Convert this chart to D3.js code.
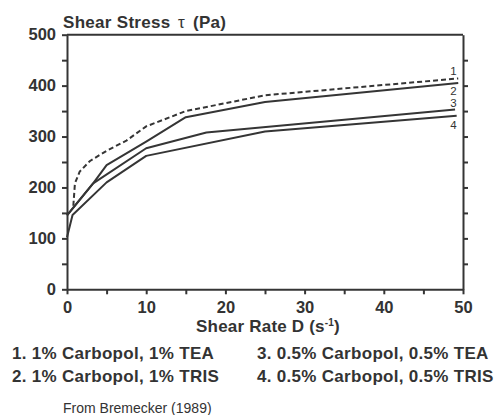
<!DOCTYPE html>
<html>
<head>
<meta charset="utf-8">
<script src="https://cdn.jsdelivr.net/npm/d3@7"></script>
<style>
  body { margin: 0; background: #fff; }
  text { font-family: "Liberation Sans", Arial, Helvetica, sans-serif; fill: #333; }
</style>
</head>
<body>
<script>
// data: shear rate D (1/s) and shear stress tau (Pa)
var rate1 = [0.8, 1.0, 1.6, 2.9, 5, 7.5, 10, 15, 25, 49.4];
var stress1 = [164, 208, 231, 252, 272, 292, 320, 350, 381, 414];
var rate2 = [0, 3.3, 5, 10, 15, 25, 49.4];
var stress2 = [145, 208, 244, 290, 338, 368, 405];
var rate3 = [0, 3.3, 10, 17.6, 49];
var stress3 = [145, 208, 277, 308, 353];
var rate4 = [0, 0.7, 5, 10, 25, 49.2];
var stress4 = [102, 146, 210, 262, 310, 341];

var seriesLabels = ["1", "2", "3", "4"];
var legendItems = [
  "1. 1% Carbopol, 1% TEA",
  "2. 1% Carbopol, 1% TRIS",
  "3. 0.5% Carbopol, 0.5% TEA",
  "4. 0.5% Carbopol, 0.5% TRIS"
];
var yTicks = [0, 50, 100, 150, 200, 250, 300, 350, 400, 450, 500];
var xTicks = [0, 5, 10, 15, 20, 25, 30, 35, 40, 45, 50];

// SVG area
var svgWidth = 499;
var svgHeight = 415;
var chartMargin = { top: 34.7, right: 36, bottom: 125.7, left: 67 };
var chartWidth = svgWidth - chartMargin.left - chartMargin.right;
var chartHeight = svgHeight - chartMargin.top - chartMargin.bottom;
var ink = "#353535";

var svg = d3.select("body")
  .append("svg")
  .attr("width", svgWidth)
  .attr("height", svgHeight);

var chartGroup = svg.append("g")
  .attr("transform", `translate(${chartMargin.left}, ${chartMargin.top})`);

// scales
var xScale = d3.scaleLinear().domain([0, 50]).range([0, chartWidth]);
var yScale = d3.scaleLinear().domain([0, 500]).range([chartHeight, 0]);

// axes
var yAxis = d3.axisLeft(yScale)
  .tickValues(yTicks)
  .tickFormat(d => d % 100 === 0 ? d : "")
  .tickSize(5).tickSizeOuter(0).tickPadding(6);
var yAxisRight = d3.axisRight(yScale)
  .tickValues(yTicks.filter(d => d > 0 && d < 500))
  .tickFormat("")
  .tickSize(5).tickSizeOuter(0);
var xAxis = d3.axisBottom(xScale)
  .tickValues(xTicks)
  .tickFormat(d => d % 10 === 0 ? d : "")
  .tickSize(5).tickSizeOuter(0).tickPadding(7);

function styleAxis(g) {
  g.selectAll("path, line").attr("stroke", ink).attr("stroke-width", 2);
  g.selectAll("text")
    .style("font-size", "16.5px")
    .style("font-weight", "bold")
    .attr("fill", "#333");
}

chartGroup.append("g")
  .attr("transform", `translate(0, ${chartHeight})`)
  .call(xAxis)
  .call(styleAxis);
chartGroup.append("g")
  .call(yAxis)
  .call(styleAxis);
chartGroup.append("g")
  .attr("transform", `translate(${chartWidth}, 0)`)
  .call(yAxisRight)
  .call(styleAxis);
// top frame line
chartGroup.append("line")
  .attr("x1", xScale(0)).attr("x2", xScale(50))
  .attr("y1", yScale(500)).attr("y2", yScale(500))
  .attr("stroke", ink).attr("stroke-width", 2);

// curves
var series = [
  { r: rate1, s: stress1, dash: "5,3" },
  { r: rate2, s: stress2, dash: null },
  { r: rate3, s: stress3, dash: null },
  { r: rate4, s: stress4, dash: null }
];

var line = d3.line()
  .x(d => xScale(d[0]))
  .y(d => yScale(d[1]));

chartGroup.selectAll(".curve")
  .data(series)
  .enter()
  .append("path")
  .attr("class", "curve")
  .attr("d", d => line(d3.zip(d.r, d.s)))
  .attr("fill", "none")
  .attr("stroke", ink)
  .attr("stroke-width", 2)
  .attr("stroke-linejoin", "round")
  .attr("stroke-dasharray", d => d.dash);

// curve numbers at the right end
var labelY = [75, 95.5, 107.5, 129];
chartGroup.selectAll(".curveLabel")
  .data(seriesLabels)
  .enter()
  .append("text")
  .attr("class", "curveLabel")
  .attr("x", xScale(48.8))
  .attr("y", (d, i) => labelY[i] - chartMargin.top)
  .attr("text-anchor", "middle")
  .style("font-size", "11.5px")
  .text(d => d);

// y axis title
var yTitle = svg.append("text")
  .attr("x", 63)
  .attr("y", 28)
  .style("font-size", "17px")
  .style("font-weight", "bold")
  .style("letter-spacing", "0.3px");
yTitle.append("tspan").text("Shear Stress");
yTitle.append("tspan").attr("x", 178).style("font-weight", "normal").text("\u03c4");
yTitle.append("tspan").attr("x", 193).text("(Pa)");

// x axis title
var xTitle = svg.append("text")
  .attr("x", 268)
  .attr("y", 332.3)
  .attr("text-anchor", "middle")
  .style("font-size", "17px")
  .style("font-weight", "bold")
  .style("letter-spacing", "0.2px");
xTitle.append("tspan").text("Shear Rate D (s");
xTitle.append("tspan").attr("dy", -6).style("font-size", "10px").text("-1");
xTitle.append("tspan").attr("dy", 6).text(")");

// legend
svg.selectAll(".legend")
  .data(legendItems)
  .enter()
  .append("text")
  .attr("class", "legend")
  .attr("x", (d, i) => i < 2 ? 12 : 257)
  .attr("y", (d, i) => i % 2 === 0 ? 359 : 381.7)
  .style("font-size", "17px")
  .style("font-weight", "bold")
  .style("letter-spacing", "0.3px")
  .text(d => d);

// source note
svg.append("text")
  .attr("x", 63)
  .attr("y", 412.7)
  .style("font-size", "14px")
  .text("From Bremecker (1989)");
</script>
</body>
</html>
